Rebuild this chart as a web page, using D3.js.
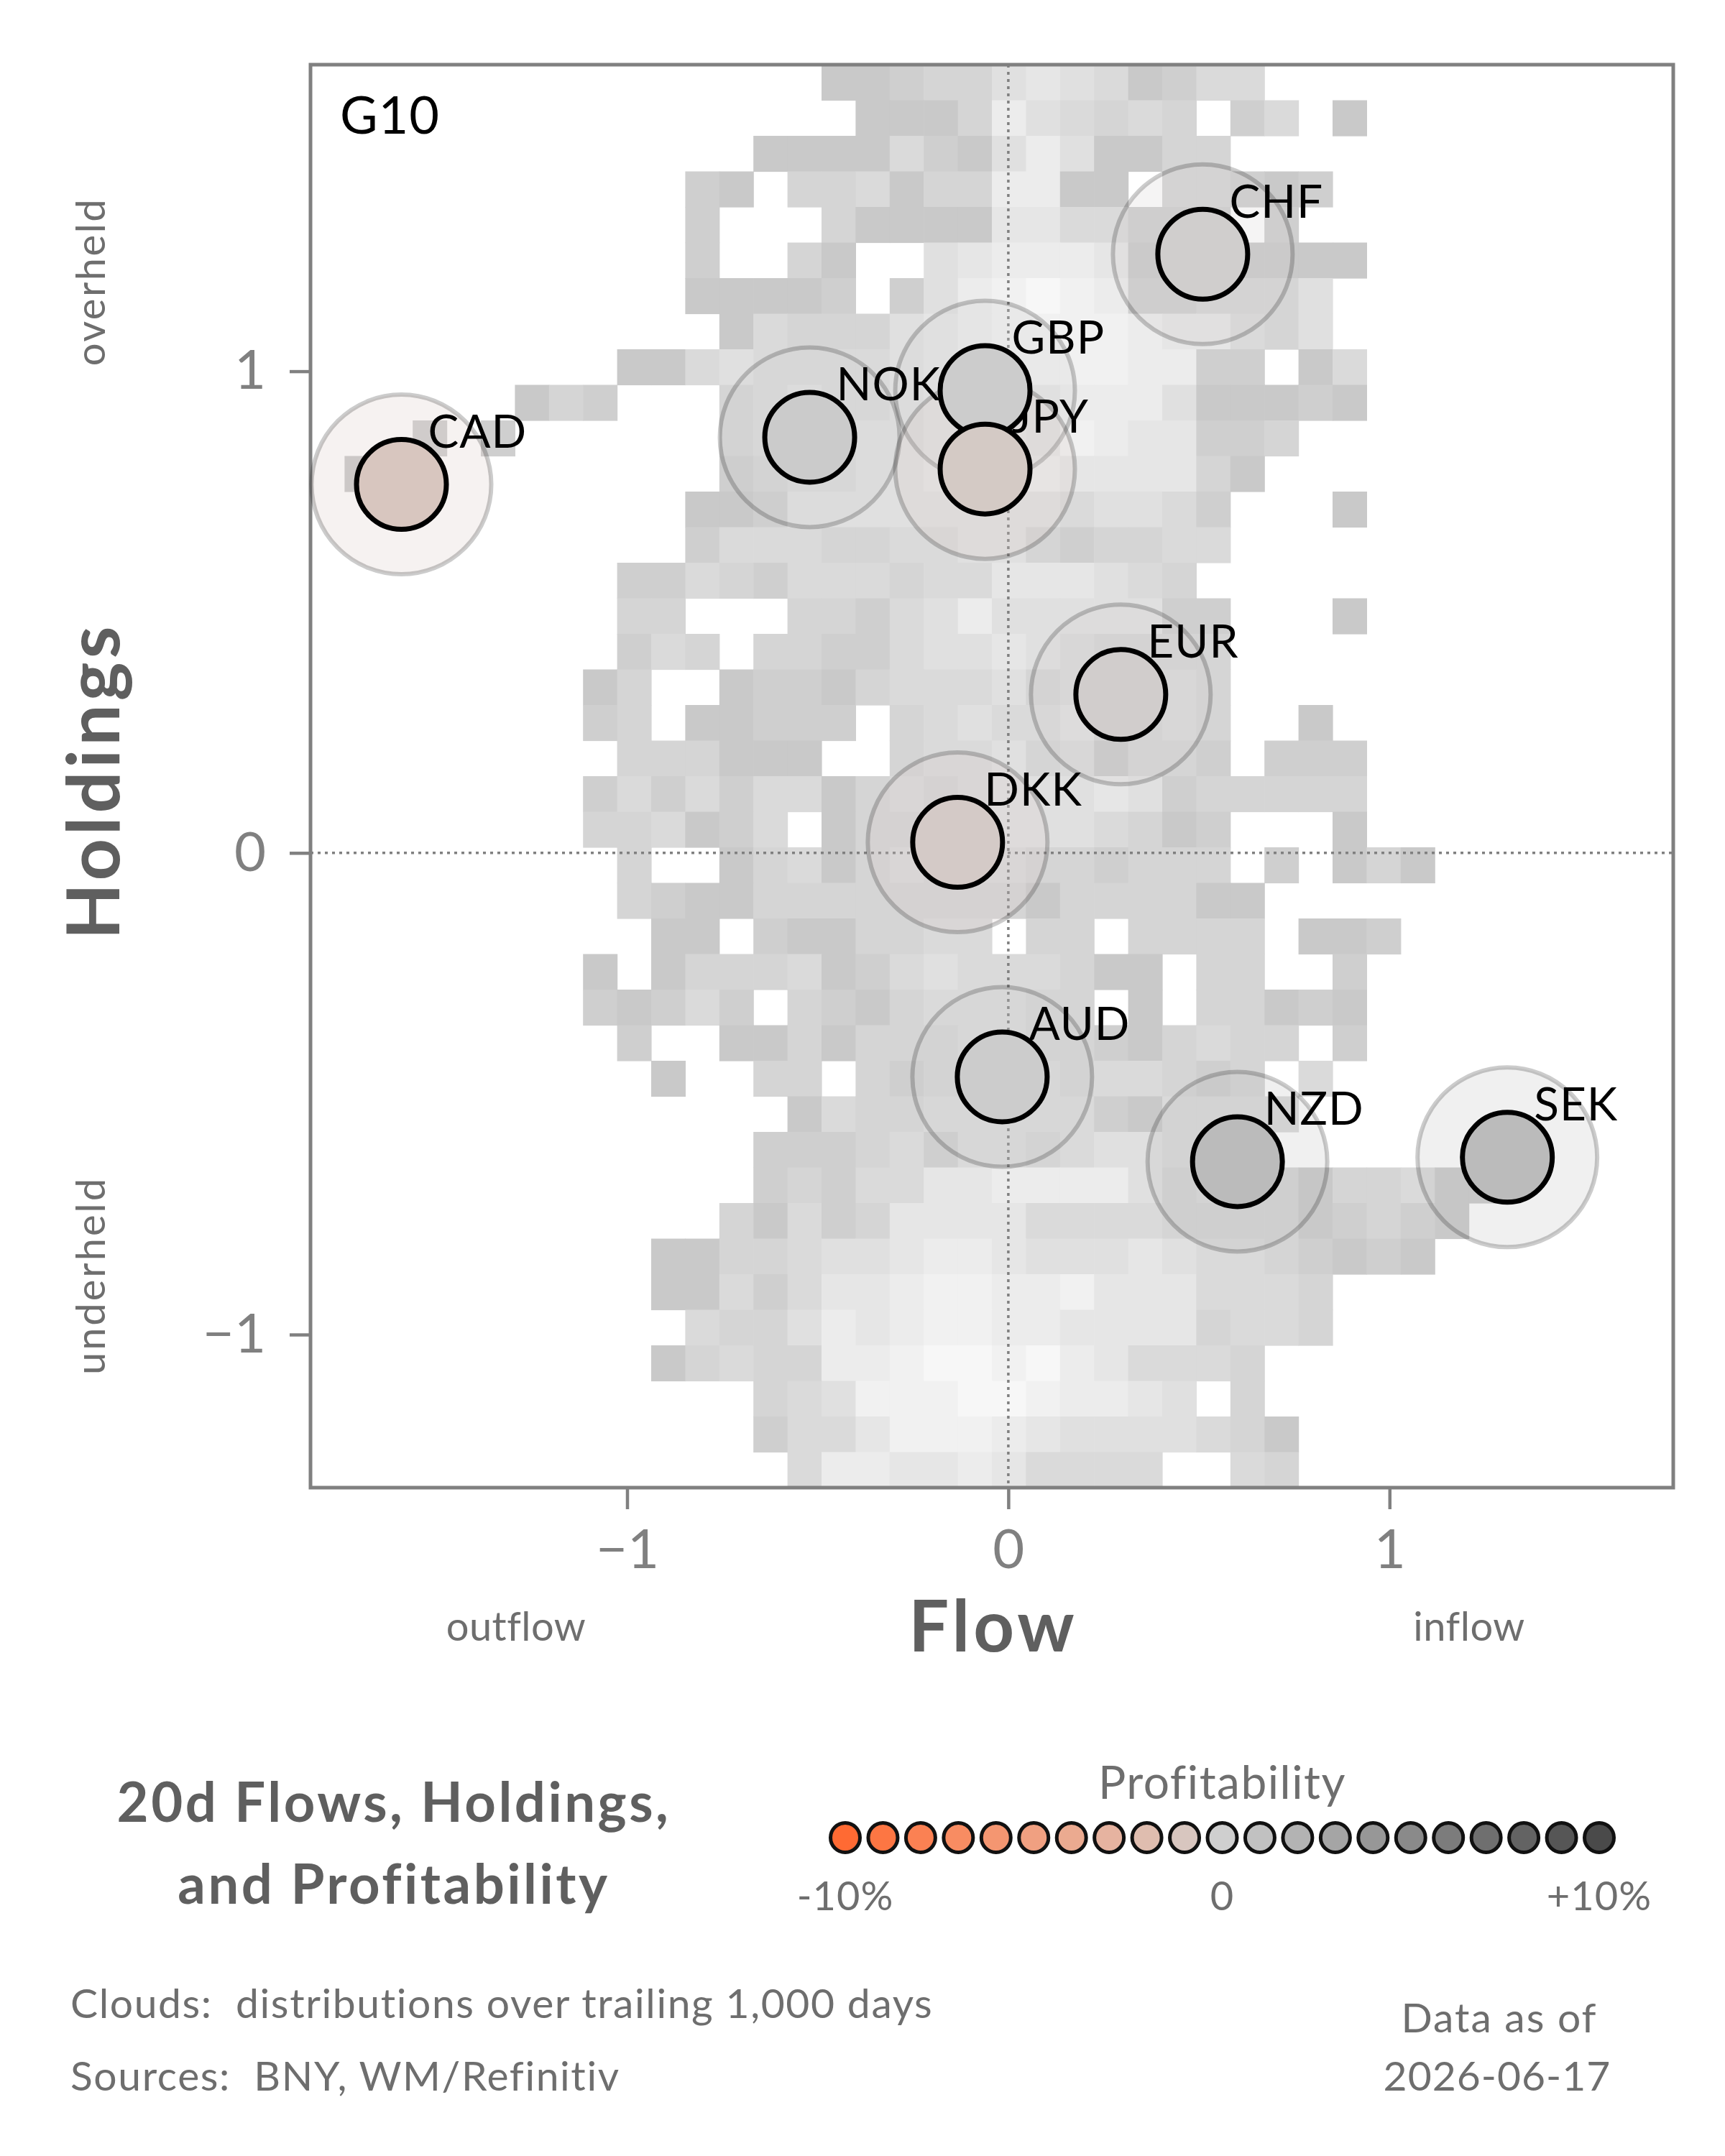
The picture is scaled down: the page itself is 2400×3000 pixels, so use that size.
<!DOCTYPE html>
<html>
<head>
<meta charset="utf-8">
<script src="https://cdn.jsdelivr.net/npm/d3@7"></script>
<style>
  body { margin: 0; background: #fff; }
  text { font-family: Lato, "Noto Sans", sans-serif; }
</style>
</head>
<body>
<svg id="chart" width="2400" height="3000"></svg>
<script>
// ---------------- DATA ----------------
const currencies = ["AUD", "CAD", "CHF", "DKK", "EUR", "GBP", "JPY", "NOK", "NZD", "SEK"];
const flows      = [-0.016, -1.592, 0.510, -0.133, 0.295, -0.061, -0.061, -0.521, 0.601, 1.309];
const holdings   = [-0.465, 0.765, 1.243, 0.022, 0.329, 0.960, 0.797, 0.863, -0.641, -0.632];
const profits    = [0.2, -1.0, -0.1, -0.5, -0.2, 0.2, -0.6, 0.3, 1.4, 1.4];

const xTicks = [-1, 0, 1];
const yTicks = [-1, 0, 1];
const legendSteps = [-10, -9, -8, -7, -6, -5, -4, -3, -2, -1, 0, 1, 2, 3, 4, 5, 6, 7, 8, 9, 10];
const legendLabels = ["-10%", "0", "+10%"];
const legendLabelValues = [-10, 0, 10];

// Cloud density (40 x 40 bins, top row first). '.' = empty, 1 = sparse ... 9 = dense
const cloudRows = [
  "...............11233" + "56541244............",
  "................1113" + "754343.24.1.........",
  ".............1111421" + "5751133.............",
  "...........21.334133" + "7711.33212..........",
  "...........2...31111" + "6644222.2...........",
  "...........2..31..56" + "77761221111.........",
  "...........11112.257" + "8987223335..........",
  "............14333567" + "8888766435..........",
  ".........11454444567" + "88887722.14.........",
  "......132...34544567" + "76777511121.........",
  "...2.2......34445567" + "768766223...........",
  ".1..........23445566" + "67666631............",
  "...........112555555" + "5545542...1.........",
  "...........244433445" + "5323344.............",
  ".........22432444344" + "666543..............",
  ".........33...332457" + "5555522...1.........",
  ".........243.3322455" + "6543333.............",
  "........13..12213444" + "5343343.............",
  "........23.11222.345" + "4453343..1..........",
  ".........333111..344" + "5341332.222.........",
  "........242424413434" + "55565233333.........",
  "........334124.13334" + "5554312...1.........",
  ".........3..13413434" + "4332333.2.131.......",
  ".........32113333333" + "31333311............",
  "..........11.2113344" + ".33.3333.112........",
  "........1.1333412454" + "44311.33..2.........",
  "........21242.321344" + "433.1.33121.........",
  ".........2..11313334" + "433213433.2.........",
  "..........1..33.3234" + "44344323.4..........",
  "..............143344" + "444214444...........",
  ".............2223424" + "43455444............",
  ".............2324466" + "777753433133411.....",
  "............31423666" + "64444333312321......",
  "..........1133455677" + "6555654432121.......",
  "..........1142466788" + "7786664443..........",
  "...........433576788" + "7766663443..........",
  "..........1343377899" + "89764443............",
  ".............3458889" + "987765.3............",
  ".............2446888" + "765555431...........",
  "..............477667" + "64444..43..........."
];

// ---------------- LAYOUT ----------------
const svg = d3.select("#chart");
svg.append("rect").attr("width", 2400).attr("height", 3000).attr("fill", "#fff");

const plot = { left: 432, right: 2328, top: 90, bottom: 2070 };
const x = d3.scaleLinear().domain([-1.8305, 1.7442]).range([plot.left, plot.right]);
const y = d3.scaleLinear().domain([-1.3178, 1.6365]).range([plot.bottom, plot.top]);

const nBins = cloudRows.length;
const colBand = d3.scaleBand().domain(d3.range(nBins)).range([plot.left, plot.right]);
const rowBand = d3.scaleBand().domain(d3.range(nBins)).range([plot.top, plot.bottom]);
const cloudColor = d3.scaleLinear().domain([1, 9]).range(["#c9c9c9", "#f7f7f7"]);

const profitColor = d3.scaleLinear()
  .domain([-10, 0, 10])
  .range(["#ff6a33", "#cfcfcf", "#4a4a4a"])
  .interpolate(d3.interpolateLab);

const gray = "#808080";
const softText = "#6e6e6e";

// ---------------- CLOUD ----------------
const cells = [];
cloudRows.forEach((row, r) => {
  row.split("").forEach((ch, c) => {
    if (ch !== ".") cells.push({ r, c, v: +ch });
  });
});
svg.append("g").selectAll("rect").data(cells).join("rect")
  .attr("x", d => colBand(d.c))
  .attr("y", d => rowBand(d.r))
  .attr("width", colBand.bandwidth() + 0.6)
  .attr("height", rowBand.bandwidth() + 0.6)
  .attr("fill", d => cloudColor(d.v));

// zero lines
svg.append("line")
  .attr("x1", x(0)).attr("x2", x(0)).attr("y1", plot.top).attr("y2", plot.bottom)
  .attr("stroke", gray).attr("stroke-width", 3.5).attr("stroke-dasharray", "4,6");
svg.append("line")
  .attr("x1", plot.left).attr("x2", plot.right).attr("y1", y(0)).attr("y2", y(0))
  .attr("stroke", gray).attr("stroke-width", 3.5).attr("stroke-dasharray", "4,6");

// frame
svg.append("rect")
  .attr("x", plot.left).attr("y", plot.top)
  .attr("width", plot.right - plot.left).attr("height", plot.bottom - plot.top)
  .attr("fill", "none").attr("stroke", gray).attr("stroke-width", 5);

// axes
const fmt = d3.format("d");
const xAxis = svg.append("g").attr("transform", `translate(0,${plot.bottom})`)
  .call(d3.axisBottom(x).tickValues(xTicks).tickFormat(fmt).tickSize(30).tickPadding(28));
const yAxis = svg.append("g").attr("transform", `translate(${plot.left},0)`)
  .call(d3.axisLeft(y).tickValues(yTicks).tickFormat(fmt).tickSize(29).tickPadding(33));
[xAxis, yAxis].forEach(g => {
  g.select(".domain").remove();
  g.selectAll(".tick line").attr("stroke", gray).attr("stroke-width", 4.5);
  g.selectAll(".tick text").attr("fill", gray).attr("font-size", 76)
    .attr("font-family", "Lato, 'Noto Sans', sans-serif");
});

// ---------------- CURRENCIES ----------------
const pts = currencies.map((cur, i) => ({ cur, fx: flows[i], hd: holdings[i], p: profits[i] }));
const order = ["CAD", "NOK", "CHF", "EUR", "DKK", "AUD", "NZD", "SEK", "GBP", "JPY"];
const sorted = order.map(c => pts.find(p => p.cur === c));

const gHalo = svg.append("g");
gHalo.selectAll("circle").data(sorted).join("circle")
  .attr("cx", d => x(d.fx)).attr("cy", d => y(d.hd)).attr("r", 125)
  .attr("fill", d => profitColor(d.p)).attr("fill-opacity", 0.22)
  .attr("stroke", "#000").attr("stroke-opacity", 0.2).attr("stroke-width", 6);

const gLab = svg.append("g");
gLab.selectAll("text").data(sorted).join("text")
  .attr("x", d => x(d.fx) + 37).attr("y", d => y(d.hd) - 51)
  .attr("font-size", 64).attr("letter-spacing", 1).attr("fill", "#000")
  .text(d => d.cur);

const gDot = svg.append("g");
gDot.selectAll("circle").data(sorted).join("circle")
  .attr("cx", d => x(d.fx)).attr("cy", d => y(d.hd)).attr("r", 62.5)
  .attr("fill", d => profitColor(d.p))
  .attr("stroke", "#000").attr("stroke-width", 7);

// panel label
svg.append("text").attr("x", 473).attr("y", 186).attr("font-size", 72)
  .attr("letter-spacing", 1).attr("fill", "#000").text("G10");

// axis titles
svg.append("text").attr("x", (plot.left + plot.right) / 2 + 2).attr("y", 2298)
  .attr("text-anchor", "middle").attr("font-size", 99).attr("letter-spacing", 5)
  .attr("font-weight", 700).attr("fill", "#5f5f5f").text("Flow");
svg.append("text").attr("x", 718).attr("y", 2283).attr("text-anchor", "middle")
  .attr("font-size", 56).attr("letter-spacing", 0.5).attr("fill", softText).text("outflow");
svg.append("text").attr("x", 2044).attr("y", 2283).attr("text-anchor", "middle")
  .attr("font-size", 56).attr("letter-spacing", 0.5).attr("fill", softText).text("inflow");

svg.append("text").attr("transform", "translate(166,1087) rotate(-90)")
  .attr("text-anchor", "middle").attr("font-size", 102).attr("letter-spacing", 5)
  .attr("font-weight", 700).attr("fill", "#5f5f5f").text("Holdings");
svg.append("text").attr("transform", "translate(146,392) rotate(-90)")
  .attr("text-anchor", "middle").attr("font-size", 56).attr("letter-spacing", 2.5)
  .attr("fill", softText).text("overheld");
svg.append("text").attr("transform", "translate(146,1775) rotate(-90)")
  .attr("text-anchor", "middle").attr("font-size", 56).attr("letter-spacing", 3)
  .attr("fill", softText).text("underheld");

// ---------------- FOOTER ----------------
svg.append("text").attr("x", 548).attr("y", 2535).attr("text-anchor", "middle")
  .attr("font-size", 76).attr("letter-spacing", 3.5).attr("font-weight", 700)
  .attr("fill", "#5f5f5f").text("20d Flows, Holdings,");
svg.append("text").attr("x", 548).attr("y", 2649).attr("text-anchor", "middle")
  .attr("font-size", 76).attr("letter-spacing", 3.5).attr("font-weight", 700)
  .attr("fill", "#5f5f5f").text("and Profitability");

const lx = d3.scaleLinear().domain([-10, 10]).range([1176, 2225]);
svg.append("text").attr("x", lx(0)).attr("y", 2503).attr("text-anchor", "middle")
  .attr("font-size", 64).attr("letter-spacing", 1.5).attr("fill", softText).text("Profitability");
svg.append("g").selectAll("circle").data(legendSteps).join("circle")
  .attr("cx", d => lx(d)).attr("cy", 2557).attr("r", 20.5)
  .attr("fill", d => profitColor(d)).attr("stroke", "#111").attr("stroke-width", 5);
svg.append("g").selectAll("text").data(legendLabelValues).join("text")
  .attr("x", d => lx(d)).attr("y", 2658).attr("text-anchor", "middle")
  .attr("font-size", 56).attr("letter-spacing", 1).attr("fill", softText)
  .text((d, i) => legendLabels[i]);

svg.append("text").attr("x", 98).attr("y", 2808).attr("font-size", 57)
  .attr("letter-spacing", 1.6).attr("fill", softText).style("white-space", "pre")
  .text("Clouds:  distributions over trailing 1,000 days");
svg.append("text").attr("x", 98).attr("y", 2909).attr("font-size", 57)
  .attr("letter-spacing", 1.6).attr("fill", softText).style("white-space", "pre")
  .text("Sources:  BNY, WM/Refinitiv");
svg.append("text").attr("x", 2086).attr("y", 2828).attr("text-anchor", "middle")
  .attr("font-size", 57).attr("letter-spacing", 2).attr("fill", softText).text("Data as of");
svg.append("text").attr("x", 2083).attr("y", 2909).attr("text-anchor", "middle")
  .attr("font-size", 57).attr("letter-spacing", 1).attr("fill", softText).text("2026-06-17");
</script>
</body>
</html>
